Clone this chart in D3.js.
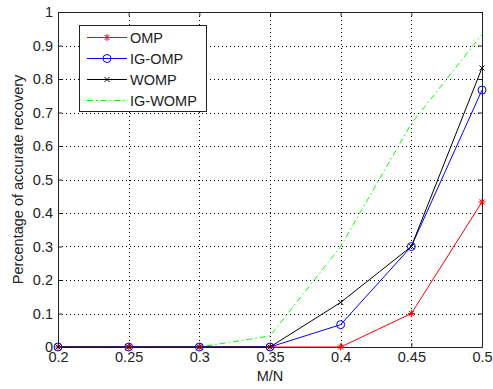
<!DOCTYPE html>
<html>
<head>
<meta charset="utf-8">
<script src="https://cdn.jsdelivr.net/npm/d3@7"></script>
<style>
  body { margin: 0; background: #fff; }
  svg { display: block; font-family: "Liberation Sans", Arial, sans-serif; }
</style>
</head>
<body>
<svg id="chart" width="493" height="389"></svg>
<script>
const xValues = [0.2, 0.25, 0.3, 0.35, 0.4, 0.45, 0.5];
const ompValues = [0, 0, 0, 0, 0, 0.1, 0.433];
const igOmpValues = [0, 0, 0, 0, 0.0667, 0.3, 0.767];
const wompValues = [0, 0, 0, 0, 0.133, 0.3, 0.833];
const igWompValues = [0, 0, 0, 0.033, 0.3, 0.667, 0.933];
const xTicks = [0.2, 0.25, 0.3, 0.35, 0.4, 0.45, 0.5];
const yTicks = [0, 0.1, 0.2, 0.3, 0.4, 0.5, 0.6, 0.7, 0.8, 0.9, 1];

const series = [
  { name: 'OMP', values: ompValues, color: '#ff0000', marker: 'star', dash: null },
  { name: 'IG-OMP', values: igOmpValues, color: '#0000ff', marker: 'circle', dash: null },
  { name: 'WOMP', values: wompValues, color: '#000000', marker: 'x', dash: null },
  { name: 'IG-WOMP', values: igWompValues, color: '#00ff00', marker: null, dash: '6,3,1.5,3' }
];

const svg = d3.select('#chart');
const plotLeft = 58, plotRight = 482, plotTop = 12, plotBottom = 347;
const fontSize = '14.5px';

const x = d3.scaleLinear().domain([0.2, 0.5]).range([plotLeft, plotRight]);
const y = d3.scaleLinear().domain([0, 1]).range([plotBottom, plotTop]);

// grid
const grid = svg.append('g');
grid.selectAll('.gx').data(xTicks.slice(1, -1)).enter().append('line')
  .attr('x1', d => Math.round(x(d)) + 0.5).attr('x2', d => Math.round(x(d)) + 0.5)
  .attr('y1', plotTop).attr('y2', plotBottom)
  .attr('stroke', '#000').attr('stroke-width', 1).attr('stroke-dasharray', '1,3');
grid.selectAll('.gy').data(yTicks.slice(1, -1)).enter().append('line')
  .attr('y1', d => Math.round(y(d)) + 0.5).attr('y2', d => Math.round(y(d)) + 0.5)
  .attr('x1', plotLeft).attr('x2', plotRight)
  .attr('stroke', '#000').attr('stroke-width', 1).attr('stroke-dasharray', '1,3');

// axes with inner ticks
const tickLen = 4;
const xAxis = svg.append('g').attr('transform', `translate(0,${plotBottom})`)
  .call(d3.axisBottom(x).tickValues(xTicks).tickSizeInner(-tickLen).tickSizeOuter(0).tickPadding(5).tickFormat(d3.format('')));
const yAxis = svg.append('g').attr('transform', `translate(${plotLeft},0)`)
  .call(d3.axisLeft(y).tickValues(yTicks).tickSizeInner(-tickLen).tickSizeOuter(0).tickPadding(5).tickFormat(d3.format('')));
const xTop = svg.append('g').attr('transform', `translate(0,${plotTop})`)
  .call(d3.axisTop(x).tickValues(xTicks).tickSizeInner(-tickLen).tickSizeOuter(0).tickFormat(''));
const yRight = svg.append('g').attr('transform', `translate(${plotRight},0)`)
  .call(d3.axisRight(y).tickValues(yTicks).tickSizeInner(-tickLen).tickSizeOuter(0).tickFormat(''));

[xAxis, yAxis, xTop, yRight].forEach(a => {
  a.select('.domain').attr('stroke', '#222');
  a.selectAll('.tick line').attr('stroke', '#222');
  a.selectAll('.tick text').attr('fill', '#222').style('font-size', fontSize);
});

// lines
const line = d3.line().x((d, i) => x(xValues[i])).y(d => y(d));
const drawOrder = [series[3], series[0], series[1], series[2]];
drawOrder.forEach(s => {
  svg.append('path').datum(s.values)
    .attr('d', line)
    .attr('fill', 'none')
    .attr('stroke', s.color)
    .attr('stroke-width', 1)
    .attr('stroke-dasharray', s.dash);
});

function drawMarker(g, type, cx, cy, color) {
  const r = 4;
  if (type === 'circle') {
    g.append('circle').attr('cx', cx).attr('cy', cy).attr('r', r)
      .attr('fill', 'none').attr('stroke', color).attr('stroke-width', 1);
  } else if (type === 'x') {
    const a = 2.5;
    g.append('path').attr('d', `M${cx - a},${cy - a}L${cx + a},${cy + a}M${cx - a},${cy + a}L${cx + a},${cy - a}`)
      .attr('stroke', color).attr('stroke-width', 1);
  } else if (type === 'star') {
    const a = 3.5, b = 2.5;
    g.append('path').attr('d', `M${cx - a},${cy}L${cx + a},${cy}M${cx},${cy - a}L${cx},${cy + a}M${cx - b},${cy - b}L${cx + b},${cy + b}M${cx - b},${cy + b}L${cx + b},${cy - b}`)
      .attr('stroke', color).attr('stroke-width', 1);
  }
}

const markers = svg.append('g');
series.filter(s => s.marker).forEach(s => {
  s.values.forEach((v, i) => drawMarker(markers, s.marker, x(xValues[i]), y(v), s.color));
});

// axis labels
svg.append('text').attr('x', (plotLeft + plotRight) / 2).attr('y', 381)
  .attr('text-anchor', 'middle').attr('fill', '#222').style('font-size', fontSize).text('M/N');
svg.append('text').attr('transform', `translate(23,${(plotTop + plotBottom) / 2}) rotate(-90)`)
  .attr('text-anchor', 'middle').attr('fill', '#222').style('font-size', fontSize)
  .text('Percentage of accurate recovery');

// legend
const lg = svg.append('g');
lg.append('rect').attr('x', 79.5).attr('y', 25.5).attr('width', 127).attr('height', 86)
  .attr('fill', '#fff').attr('stroke', '#222').attr('stroke-width', 1);
series.forEach((s, i) => {
  const ly = 37.5 + i * 21;
  lg.append('line').attr('x1', 87).attr('x2', 127).attr('y1', ly).attr('y2', ly)
    .attr('stroke', s.color).attr('stroke-width', 1).attr('stroke-dasharray', s.dash);
  if (s.marker) drawMarker(lg, s.marker, 107, ly, s.color);
  lg.append('text').attr('x', 130).attr('y', ly + 5).attr('fill', '#222')
    .style('font-size', fontSize).text(s.name);
});
</script>
</body>
</html>
